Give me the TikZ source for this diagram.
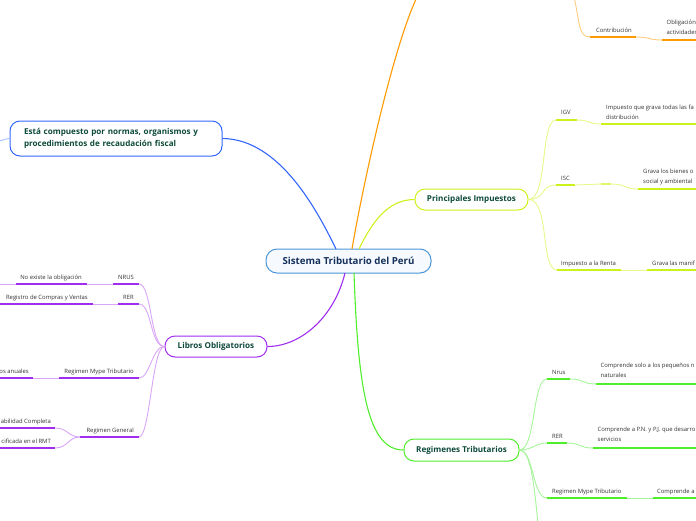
\documentclass[tikz,border=0pt]{standalone}
\usepackage{fontspec}
\setmainfont{Open Sans}
\definecolor{cBlue}{HTML}{3366FF}
\definecolor{cBlueL}{HTML}{A8BFFF}
\definecolor{cRoot}{HTML}{4A96D6}
\definecolor{cRootFill}{HTML}{F6FAFE}
\definecolor{cOr}{HTML}{FF9900}
\definecolor{cOrL}{HTML}{FFCC80}
\definecolor{cYe}{HTML}{CCF21C}
\definecolor{cYeL}{HTML}{E6F98A}
\definecolor{cPu}{HTML}{A02EF0}
\definecolor{cPuL}{HTML}{D9A6F7}
\definecolor{cGr}{HTML}{4FEE2A}
\definecolor{cGrL}{HTML}{A6F59A}
\definecolor{cText}{HTML}{0E4A3A}
\definecolor{cNavy}{HTML}{15305A}
\definecolor{cLeaf}{HTML}{333333}
\begin{document}
\begin{tikzpicture}[x=1pt,y=-1pt,
  bigbox/.style={draw, rounded corners=10pt, line width=1pt, fill=white,
    font=\bfseries\fontsize{8.1}{10}\selectfont, text=cText, inner sep=0pt},
  rootbox/.style={draw=cRoot, fill=cRootFill, rounded corners=11pt, line width=1pt,
    font=\bfseries\fontsize{9.7}{11}\selectfont, text=cNavy, inner sep=0pt,
    minimum width=165pt, minimum height=24pt},
  leaf/.style={font=\fontsize{5.9}{9.6}\selectfont, text=cLeaf, inner sep=0pt, align=left},
  ul/.style={line width=1.8pt},
  thin/.style={line width=0.9pt},
  conn/.style={line width=1.1pt}]
\useasboundingbox (0,0) rectangle (696,520);
\clip (0,0) rectangle (696,520);

% ---------- root ----------
\node[rootbox] (root) at (348.5,261) {Sistema Tributario del Perú};

% ---------- main nodes ----------
\node[bigbox, draw=cBlue, text width=184pt, inner xsep=14pt, align=left,
      minimum height=35pt, font=\bfseries\fontsize{8.1}{12.5}\selectfont] (comp) at (116,138.5)
  {Está compuesto por normas, organismos y\\procedimientos de recaudación fiscal};
\node[bigbox, draw=cYe, minimum width=113pt, minimum height=21pt] (imp) at (471.5,199.5) {Principales Impuestos};
\node[bigbox, draw=cPu, minimum width=102pt, minimum height=21pt] (lib) at (216,346.5) {Libros Obligatorios};
\node[bigbox, draw=cGr, minimum width=115pt, minimum height=22pt] (reg) at (461.5,450) {Regimenes Tributarios};

% ---------- coordinates of root exits ----------
\coordinate (rB) at (336,249);
\coordinate (rO) at (352,249);
\coordinate (rY) at (359,249);
\coordinate (rP) at (345,273);
\coordinate (rG) at (354,273);

% ---------- main connectors ----------
\draw[conn, cBlue] (rB) .. controls (318,212) and (280,139) .. (comp.east);
\coordinate (oTop) at (417,-3);
\draw[conn, cOr] (rO) .. controls (362,190) and (392,50) .. (oTop);
\draw[conn, cYe] (rY) .. controls (372,222) and (388,199.5) .. (imp.west);
\draw[conn, cPu] (rP) .. controls (334,318) and (300,346.5) .. (lib.east);
\draw[conn, cGr] (rG) .. controls (358,390) and (368,450) .. (reg.west);

% blue stub to the left
\coordinate (bL) at (-3,141);
\draw[thin, cBlueL] (comp.west) .. controls (5,138.5) and (3,141) .. (bL);

% ---------- orange (top right) ----------
\coordinate (oT2) at (574,-3);
\coordinate (con1) at (590,37);
\coordinate (con2) at (636,37);
\coordinate (obl1) at (662,40);
\coordinate (obl2) at (700,40);
\draw[thin, cOrL] (oT2) .. controls (580,22) and (578,37) .. (con1);
\draw[ul, cOr] (con1) -- (con2);
\node[leaf, anchor=base west] (conT) at (596,32) {Contribución};
\draw[thin, cOrL] (con2) .. controls (650,37) and (648,40) .. (obl1);
\draw[ul, cOr] (obl1) -- (obl2);
\node[leaf, anchor=north west] (oblT) at (666.5,20) {Obligación\\actividades};

% ---------- yellow: impuestos ----------
\coordinate (igv1) at (556,120);
\coordinate (igv2) at (577,120);
\coordinate (igv3) at (601,124);
\coordinate (igv4) at (700,124);
\draw[thin, cYeL] (imp.east) .. controls (548,199.5) and (540,120) .. (igv1);
\draw[ul, cYe] (igv1) -- (igv2);
\node[leaf, anchor=base west] (igvT) at (561,114.5) {IGV};
\draw[thin, cYeL] (igv2) .. controls (590,120) and (588,124) .. (igv3);
\draw[ul, cYe] (igv3) -- (igv4);
\node[leaf, anchor=north west] (igvD) at (606,105) {Impuesto que grava todas las fa\\distribución};

\coordinate (isc1) at (556,185);
\coordinate (isc2) at (575,185);
\coordinate (isc3) at (601,184);
\coordinate (isc4) at (611,184);
\coordinate (isc5) at (638,189);
\coordinate (isc6) at (700,189);
\draw[thin, cYeL] (imp.east) .. controls (546,199.5) and (540,185) .. (isc1);
\draw[ul, cYe] (isc1) -- (isc2);
\node[leaf, anchor=base west] (iscT) at (561,180) {ISC};
\draw[thin, cYeL] (isc2) -- (isc3);
\draw[ul, cYeL!70!cYe] (isc3) -- (isc4);
\draw[thin, cYeL] (isc4) .. controls (626,184) and (624,189) .. (isc5);
\draw[ul, cYe] (isc5) -- (isc6);
\node[leaf, anchor=north west] (iscD) at (643,169) {Grava los bienes o\\social y ambiental};

\coordinate (ren1) at (557,270);
\coordinate (ren2) at (621,270);
\coordinate (ren3) at (647,270);
\coordinate (ren4) at (700,270);
\draw[thin, cYeL] (imp.east) .. controls (550,199.5) and (540,270) .. (ren1);
\draw[ul, cYe] (ren1) -- (ren2);
\node[leaf, anchor=base west] (renT) at (561,265) {Impuesto a la Renta};
\draw[thin, cYeL] (ren2) -- (ren3);
\draw[ul, cYe] (ren3) -- (ren4);
\node[leaf, anchor=base west] (renD) at (652,265) {Grava las manif};

% ---------- purple: libros ----------
\coordinate (nr1) at (139,284);
\coordinate (nr2) at (113,284);
\coordinate (nr3) at (87,284);
\coordinate (nr4) at (16,284);
\coordinate (nr5) at (-3,284);
\draw[thin, cPuL] (lib.west) .. controls (150,346.5) and (152,284) .. (nr1);
\draw[ul, cPu] (nr1) -- (nr2);
\node[leaf, anchor=base east] (nrT) at (134,279.5) {NRUS};
\draw[thin, cPuL] (nr2) -- (nr3);
\draw[ul, cPu] (nr3) -- (nr4);
\node[leaf, anchor=base east] (nrD) at (82,279.5) {No existe la obligación};
\draw[thin, cPuL] (nr4) -- (nr5);

\coordinate (rr1) at (139,304);
\coordinate (rr2) at (118,304);
\coordinate (rr3) at (93,304);
\coordinate (rr4) at (-3,304);
\draw[thin, cPuL] (lib.west) .. controls (150,346.5) and (152,304) .. (rr1);
\draw[ul, cPu] (rr1) -- (rr2);
\node[leaf, anchor=base east] (rrT) at (134,299.5) {RER};
\draw[thin, cPuL] (rr2) -- (rr3);
\draw[ul, cPu] (rr3) -- (rr4);
\node[leaf, anchor=base east] (rrD) at (88,299.5) {Registro de Compras y Ventas};

\coordinate (mp1) at (139,378);
\coordinate (mp2) at (59,378);
\coordinate (mp3) at (33,378);
\coordinate (mp4) at (-3,378);
\draw[thin, cPuL] (lib.west) .. controls (152,346.5) and (150,378) .. (mp1);
\draw[ul, cPu] (mp1) -- (mp2);
\node[leaf, anchor=base east] (mpT) at (134,373.5) {Regimen Mype Tributario};
\draw[thin, cPuL] (mp2) -- (mp3);
\draw[ul, cPu] (mp3) -- (mp4);
\node[leaf, anchor=base east] (mpD) at (29,373.5) {os anuales};

\coordinate (gn1) at (139,437);
\coordinate (gn2) at (80,437);
\coordinate (gc1) at (55,428);
\coordinate (gc2) at (-3,428);
\coordinate (gs1) at (55,448);
\coordinate (gs2) at (-3,448);
\draw[thin, cPuL] (lib.west) .. controls (152,346.5) and (150,437) .. (gn1);
\draw[ul, cPu] (gn1) -- (gn2);
\node[leaf, anchor=base east] (gnT) at (134,432.5) {Regimen General};
\draw[thin, cPuL] (gn2) .. controls (68,437) and (68,428) .. (gc1);
\draw[thin, cPuL] (gn2) .. controls (68,437) and (68,448) .. (gs1);
\draw[ul, cPu] (gc1) -- (gc2);
\draw[ul, cPu] (gs1) -- (gs2);
\node[leaf, anchor=base east] (gcT) at (51,423.5) {abilidad Completa};
\node[leaf, anchor=base east] (gsT) at (51,443.5) {cificada en el RMT};

% ---------- green: regimenes ----------
\coordinate (gr1) at (547,379);
\coordinate (gr2) at (570,379);
\coordinate (gr3) at (596,384);
\coordinate (gr4) at (700,384);
\draw[thin, cGrL] (reg.east) .. controls (536,450) and (532,379) .. (gr1);
\draw[ul, cGr] (gr1) -- (gr2);
\node[leaf, anchor=base west] (grT) at (552,374.5) {Nrus};
\draw[thin, cGrL] (gr2) .. controls (584,379) and (582,384) .. (gr3);
\draw[ul, cGr] (gr3) -- (gr4);
\node[leaf, anchor=north west] (grD) at (600.5,363) {Comprende solo a los pequeños n\\naturales};

\coordinate (gq1) at (547,443);
\coordinate (gq2) at (567,443);
\coordinate (gq3) at (593,448);
\coordinate (gq4) at (700,448);
\draw[thin, cGrL] (reg.east) .. controls (532,450) and (536,443) .. (gq1);
\draw[ul, cGr] (gq1) -- (gq2);
\node[leaf, anchor=base west] (gqT) at (552,438.5) {RER};
\draw[thin, cGrL] (gq2) .. controls (581,443) and (579,448) .. (gq3);
\draw[ul, cGr] (gq3) -- (gq4);
\node[leaf, anchor=north west] (gqD) at (597.5,427) {Comprende a P.N. y P.J. que desarro\\servicios};

\coordinate (gm1) at (547,498);
\coordinate (gm2) at (627,498);
\coordinate (gm3) at (653,498);
\coordinate (gm4) at (700,498);
\draw[thin, cGrL] (reg.east) .. controls (534,450) and (532,498) .. (gm1);
\draw[ul, cGr] (gm1) -- (gm2);
\node[leaf, anchor=base west] (gmT) at (552,493.5) {Regimen Mype Tributario};
\draw[thin, cGrL] (gm2) -- (gm3);
\draw[ul, cGr] (gm3) -- (gm4);
\node[leaf, anchor=base west] (gmD) at (657,493.5) {Comprende a};

\coordinate (gd) at (538,525);
\draw[thin, cGrL] (reg.east) .. controls (530,450) and (534,480) .. (gd);
\end{tikzpicture}
\end{document}
